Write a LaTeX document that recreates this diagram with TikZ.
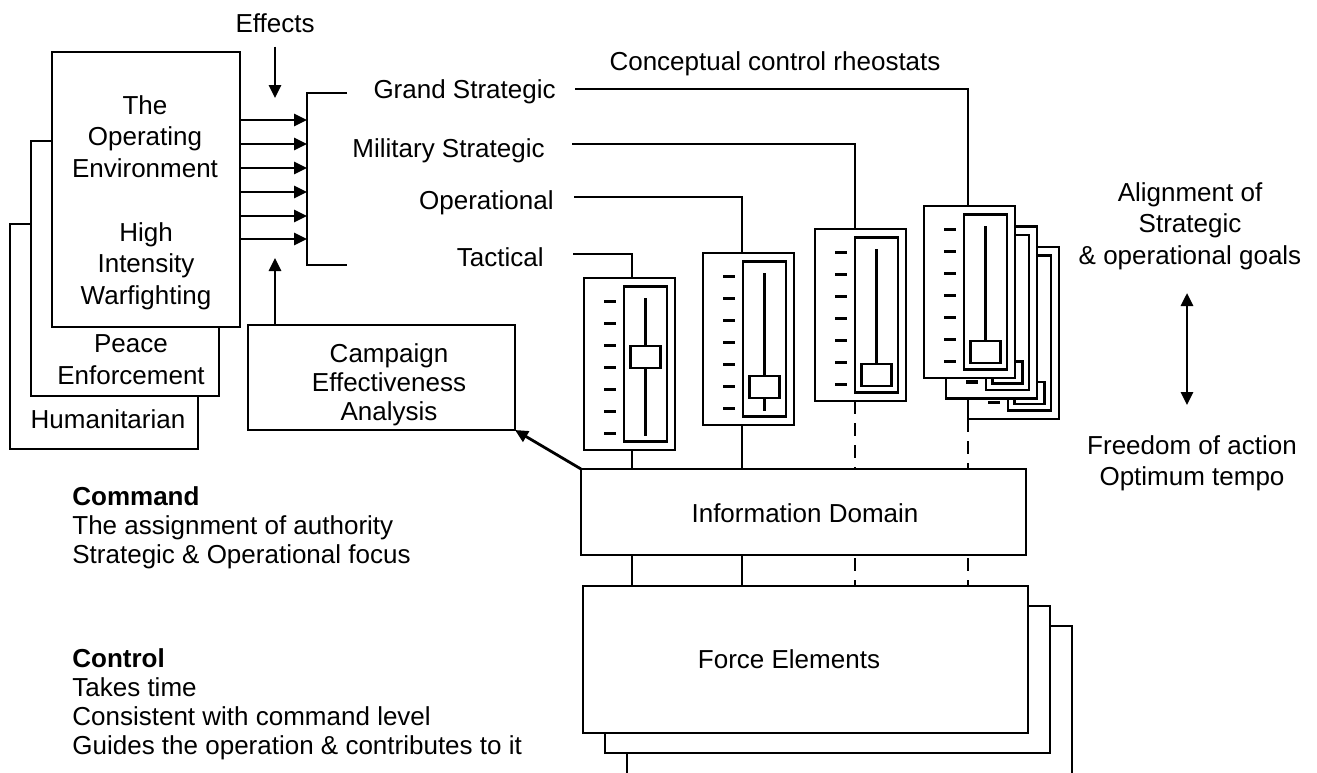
\documentclass[tikz,border=0pt]{standalone}
\usepackage{fontspec}
\setmainfont{Liberation Sans}
\usetikzlibrary{arrows.meta}
\newcommand\rheo[4]{%
  \begin{scope}[shift={(#2,#3)}]
    \node[box, minimum width=91pt, minimum height=172pt] (#1) at (0,0) {};
    \node[box, minimum width=43pt, minimum height=155pt] (#1in) at (40,8.5) {};
    \draw[slide] (61.5,20) -- (61.5,158);
    \node[box, minimum width=30pt, minimum height=22pt] (#1k) at (46.5,#4) {};
    \foreach \t in {0,...,6} \draw[tick] (20,{23.5+22*\t}) -- (32,{23.5+22*\t});
  \end{scope}}
\begin{document}
\begin{tikzpicture}[x=1pt,y=-1pt,line width=2.8pt,
  box/.style={draw,fill=white,inner sep=0pt,outer sep=0pt,anchor=north west,line width=2.8pt},
  lbl/.style={inner sep=0pt,font=\fontsize{26}{31.5}\selectfont},
  ml/.style={lbl,align=center},
  note/.style={inner sep=0pt,align=left,anchor=north west,font=\fontsize{26}{29}\selectfont},
  arr/.style={-{Triangle[length=13pt,width=12pt]}},
  dbl/.style={{Triangle[length=13pt,width=12pt]}-{Triangle[length=13pt,width=12pt]}},
  dsh/.style={dash pattern=on 13pt off 9pt},
  slide/.style={line width=3.2pt},
  tick/.style={line width=3.4pt}]
\useasboundingbox (0,0) rectangle (1317,772);
\fill[white] (0,0) rectangle (1317,772);
\clip (0,0) rectangle (1317,772);

% ---- operating environment stack
\node[box, minimum width=188pt, minimum height=225pt] (hum) at (10,224) {};
\node[box, minimum width=188pt, minimum height=255pt] (peace) at (31,141) {};
\node[box, minimum width=188pt, minimum height=275pt] (oe) at (52,52) {};
\node[lbl] (humT) at (108,419) {Humanitarian};
\node[ml] (peaceT) at (131,359.5) {Peace\\Enforcement};
\node[ml] (oeT1) at (145,136.5) {The\\Operating\\Environment};
\node[ml] (oeT2) at (146,266) {High\\Intensity\\Warfighting};

% ---- effects
\node[lbl, anchor=base] (eff) at (275,32) {Effects};
\coordinate (effTip) at (275,98);
\draw[arr] ([yshift=-13pt]eff.south) -- (effTip);

% ---- bracket and arrows
\coordinate (brT) at (307,93);
\coordinate (brB) at (307,265);
\coordinate (brTe) at (347,93);
\coordinate (brBe) at (347,265);
\draw (brTe) -- (brT) -- (brB) -- (brBe);
\foreach \yy [count=\i] in {120,144,168,192,216,239} {
  \coordinate (h\i) at (307,\yy);
  \draw[arr] (oe.east |- h\i) -- (h\i);
}

% ---- campaign effectiveness analysis
\node[box, minimum width=267pt, minimum height=105pt] (camp) at (248,325) {};
\node[ml, font=\fontsize{26}{28.8}\selectfont] (campT) at (389,384.5) {Campaign\\Effectiveness\\Analysis};
\coordinate (upTip) at (275,258);
\draw[arr] (upTip |- camp.north) -- (upTip);

% ---- titles and level labels
\node[lbl, anchor=base] (rheoT) at (775,70) {Conceptual control rheostats};
\node[lbl, anchor=base east] (lgs) at (557,98) {Grand Strategic};
\node[lbl, anchor=base east] (lms) at (546,157) {Military Strategic};
\node[lbl, anchor=base east] (lop) at (555,209) {Operational};
\node[lbl, anchor=base east] (ltac) at (545,266) {Tactical};
\coordinate (gsL) at (575,89);
\coordinate (msL) at (572,144);
\coordinate (opL) at (574,197);
\coordinate (tacL) at (573,254);

% ---- rheostats
\rheo{s1}{584}{278}{68}
\rheo{s2}{703}{253}{123}
\rheo{s3}{815}{229}{135}
\rheo{s4c}{968}{247}{135}
\rheo{s4b}{946}{226.5}{135}
\rheo{s4}{924}{206}{135}

\coordinate (c1) at (632,0);
\coordinate (c2) at (742,0);
\coordinate (c3) at (855,0);
\coordinate (c4) at (968,0);

\draw (gsL) -| (c4 |- s4.north);
\draw (msL) -| (c3 |- s3.north);
\draw (opL) -| (c2 |- s2.north);
\draw (tacL) -| (c1 |- s1.north);

% ---- information domain and force elements
\node[box, minimum width=445pt, minimum height=86pt] (info) at (581,469) {};
\node[lbl] (infoT) at (805,513) {Information Domain};
\node[box, minimum width=445pt, minimum height=175pt] (fe3) at (627,626) {};
\node[box, minimum width=445pt, minimum height=147pt] (fe2) at (605,606) {};
\node[box, minimum width=445pt, minimum height=147pt] (fe) at (583,586) {};
\node[lbl] (feT) at (789,659) {Force Elements};

\draw (c1 |- s1.south) -- (c1 |- info.north);
\draw (c2 |- s2.south) -- (c2 |- info.north);
\draw[dsh] (c3 |- s3.south) -- (c3 |- info.north);
\draw[dsh] (c4 |- s4c.south) -- (c4 |- info.north);
\draw (c1 |- info.south) -- (c1 |- fe.north);
\draw (c2 |- info.south) -- (c2 |- fe.north);
\draw[dsh, dash phase=-3pt] (c3 |- info.south) -- (c3 |- fe.north);
\draw[dsh, dash phase=-3pt] (c4 |- info.south) -- (c4 |- fe.north);

\draw[arr] (info.north west) -- (camp.south east);

% ---- right side
\node[ml] (alignT) at (1190,226) {Alignment of\\Strategic\\\& operational goals};
\node[ml] (freeT) at (1192,463.5) {Freedom of action\\Optimum tempo};
\coordinate (aTop) at (1187,293);
\coordinate (aBot) at (1187,405);
\draw[dbl] (aTop) -- (aBot);

% ---- command and control notes
\node[note] (cmdT) at (71,485.3) {\textbf{Command}\\The assignment of authority\\Strategic \& Operational focus};
\node[note] (ctlT) at (71,647.3) {\textbf{Control}\\Takes time\\Consistent with command level\\Guides the operation \& contributes to it};
\end{tikzpicture}
\end{document}
